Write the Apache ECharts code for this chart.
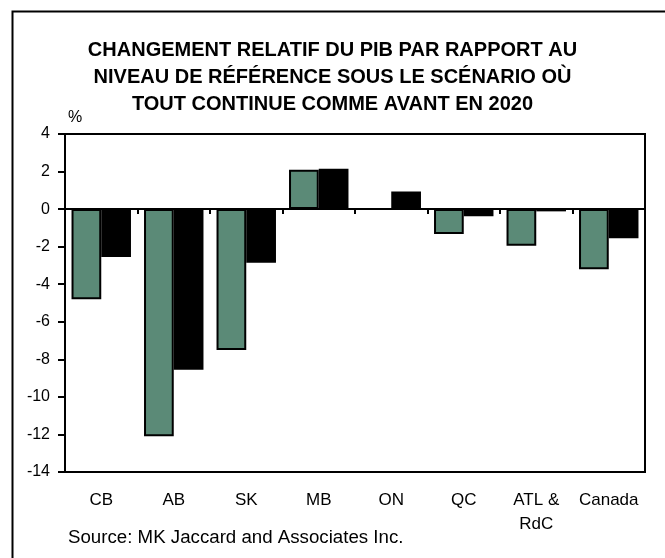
<!DOCTYPE html>
<html>
<head>
<meta charset="utf-8">
<script src="https://cdn.jsdelivr.net/npm/echarts@6/dist/echarts.min.js"></script>
<style>
  html, body { margin: 0; padding: 0; background: #fff; }
  #chart { width: 665px; height: 558px; }
</style>
</head>
<body>
<div id="chart"></div>
<script>
// données
const categories = ['CB', 'AB', 'SK', 'MB', 'ON', 'QC', 'ATL &\nRdC', 'Canada']
const seriesA = [-4.8, -12.1, -7.5, 2.1, 0, -1.33, -1.95, -3.2]
const seriesB = [-2.55, -8.55, -2.85, 2.15, 0.94, -0.38, -0.12, -1.55]
const yMin = -14
const yMax = 4
const yStep = 2

const font = 'Liberation Sans, Arial, sans-serif'
const chart = echarts.init(document.getElementById('chart'))

const option = {
  animation: false,
  backgroundColor: '#fff',
  title: {
    text: 'CHANGEMENT RELATIF DU PIB PAR RAPPORT AU\nNIVEAU DE RÉFÉRENCE SOUS LE SCÉNARIO OÙ\nTOUT CONTINUE COMME AVANT EN 2020',
    left: 'center',
    top: 32,
    textStyle: {
      fontFamily: font,
      fontSize: 20,
      fontWeight: 'bold',
      color: '#000',
      lineHeight: 27
    }
  },
  graphic: [
    {
      type: 'rect',
      left: 10,
      top: 9,
      shape: { width: 700, height: 600 },
      style: { fill: 'none', stroke: '#000', lineWidth: 2 },
      z: -1
    },
    {
      type: 'text',
      left: 68,
      top: 110,
      style: { text: '%', font: '16px ' + font, fill: '#000' }
    },
    {
      type: 'text',
      left: 68,
      top: 528,
      style: { text: 'Source: MK Jaccard and Associates Inc.', font: '18.7px ' + font, fill: '#000' }
    }
  ],
  grid: {
    left: 65,
    right: 20,
    top: 134,
    bottom: 86,
    show: true,
    borderColor: '#000',
    borderWidth: 2,
    backgroundColor: 'transparent'
  },
  xAxis: [
    {
      type: 'category',
      data: categories,
      axisLine: { onZero: true, lineStyle: { color: '#000', width: 2 } },
      axisTick: { show: true, length: 5, lineStyle: { color: '#000', width: 2 } },
      axisLabel: { show: false },
      splitLine: { show: false }
    },
    {
      type: 'category',
      data: categories,
      position: 'bottom',
      axisLine: { show: false, onZero: false },
      axisTick: { show: false },
      axisLabel: {
        interval: 0,
        margin: 16,
        fontFamily: font,
        fontSize: 17,
        color: '#000',
        lineHeight: 24
      }
    }
  ],
  yAxis: {
    type: 'value',
    min: yMin,
    max: yMax,
    interval: yStep,
    axisLine: { show: true, lineStyle: { color: '#000', width: 2 } },
    axisTick: { show: true, length: 7, lineStyle: { color: '#000', width: 2 } },
    axisLabel: { margin: 15, fontFamily: font, fontSize: 16, color: '#000' },
    splitLine: { show: false }
  },
  series: [
    {
      type: 'bar',
      data: seriesA,
      barGap: '0%',
      barCategoryGap: '18%',
      itemStyle: { color: '#5b8a77', borderColor: '#000', borderWidth: 2 }
    },
    {
      type: 'bar',
      data: seriesB,
      itemStyle: { color: '#000', borderColor: '#000', borderWidth: 2 }
    }
  ]
}

chart.setOption(option)
</script>
</body>
</html>
